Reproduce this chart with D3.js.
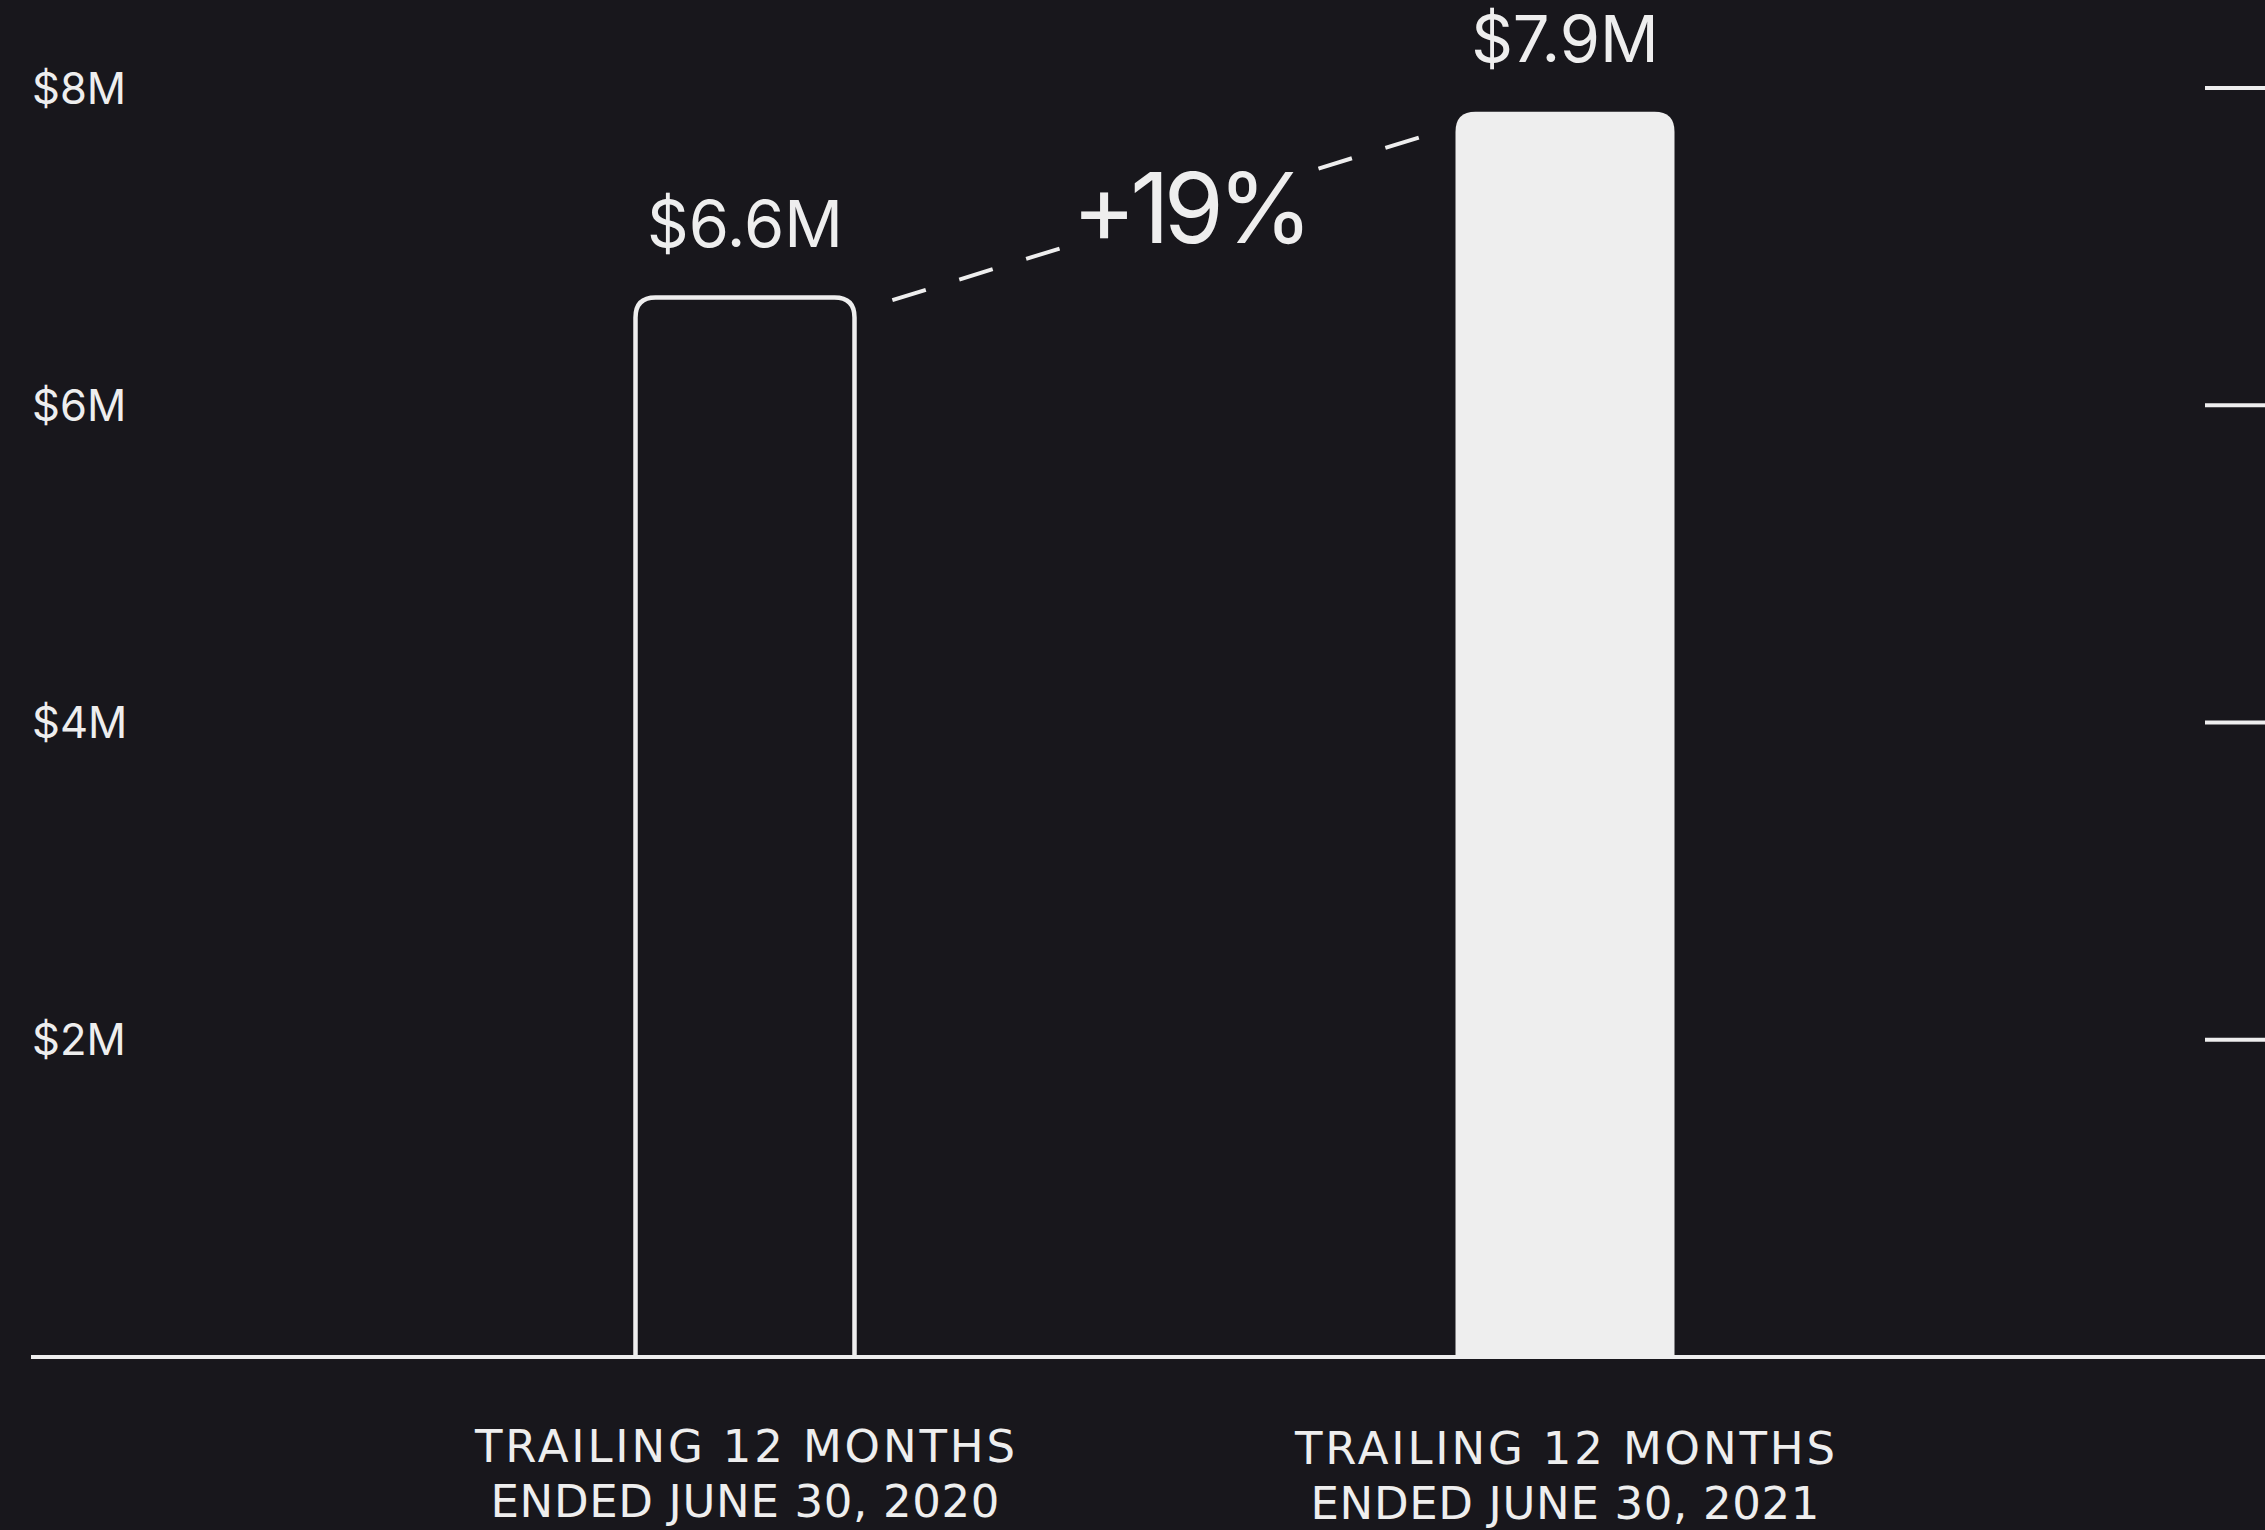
<!DOCTYPE html>
<html>
<head>
<meta charset="utf-8">
<script src="https://cdn.jsdelivr.net/npm/d3@7"></script>
<style>
  html, body { margin: 0; padding: 0; background: #18171c; }
  svg { display: block; }
</style>
</head>
<body>
<svg id="chart" width="2265" height="1530"></svg>
<script>
// ---- data ----
const categories = ["2020", "2021"];
const categoryLines = [
  ["TRAILING 12 MONTHS", "ENDED JUNE 30, 2020"],
  ["TRAILING 12 MONTHS", "ENDED JUNE 30, 2021"]
];
const values = [6.68, 7.85];           // $M
const valueLabels = ["$6.6M", "$7.9M"];
const growthLabel = "+19%";
const yTicks = [2, 4, 6, 8];
const yTickLabels = ["$2M", "$4M", "$6M", "$8M"];

// ---- layout ----
const W = 2265, H = 1530;
const FG = "#eeeeee", BG = "#18171c";
const svg = d3.select("#chart");
svg.append("rect").attr("width", W).attr("height", H).attr("fill", BG);

const y = d3.scaleLinear().domain([0, 8]).range([1357, 88]);
const x = d3.scalePoint().domain(categories).range([745, 1565]);
const bw = 219, r = 20;

function topRounded(cx, top, bottom, w, rad) {
  const l = cx - w / 2, rr = cx + w / 2;
  return `M${l},${bottom} L${l},${top + rad} Q${l},${top} ${l + rad},${top} L${rr - rad},${top} Q${rr},${top} ${rr},${top + rad} L${rr},${bottom}`;
}

// y-axis labels
svg.append("g").selectAll("text").data(yTicks).join("text")
  .attr("x", 32).attr("y", d => y(d))
  .attr("dy", "0.36em")
  .attr("font-family", "Inter, 'Noto Sans', sans-serif")
  .attr("font-size", 43.5).attr("fill", FG)
  .text((d, i) => yTickLabels[i]);

// right tick marks
svg.append("g").selectAll("line").data(yTicks).join("line")
  .attr("x1", 2205).attr("x2", W)
  .attr("y1", d => y(d)).attr("y2", d => y(d))
  .attr("stroke", FG).attr("stroke-width", 4);

// bars
svg.append("path")
  .attr("d", topRounded(x(categories[0]), y(values[0]), y(0), bw, r))
  .attr("fill", "none").attr("stroke", FG).attr("stroke-width", 4.5);
svg.append("path")
  .attr("d", topRounded(x(categories[1]), y(values[1]), y(0), bw, r) + " Z")
  .attr("fill", FG);

// baseline
svg.append("line")
  .attr("x1", 31).attr("x2", W)
  .attr("y1", y(0)).attr("y2", y(0))
  .attr("stroke", FG).attr("stroke-width", 4);

// value labels
svg.append("g").selectAll("text").data(values).join("text")
  .attr("x", (d, i) => x(categories[i]))
  .attr("y", d => y(d) - 50)
  .attr("text-anchor", "middle")
  .attr("font-family", "Inter, 'Noto Sans', sans-serif")
  .attr("font-size", 65).attr("fill", FG)
  .text((d, i) => valueLabels[i]);

// dashed growth connector
const A = [x(categories[0]) + bw / 2, y(values[0]) + 14.5];
const B = [x(categories[1]) - bw / 2, y(values[1]) + 14.5];
const pt = t => [A[0] + (B[0] - A[0]) * t, A[1] + (B[1] - A[1]) * t];
[[0.063, 0.343], [0.772, 0.94]].forEach(([t0, t1]) => {
  const p0 = pt(t0), p1 = pt(t1);
  svg.append("line")
    .attr("x1", p0[0]).attr("y1", p0[1]).attr("x2", p1[0]).attr("y2", p1[1])
    .attr("stroke", FG).attr("stroke-width", 4)
    .attr("stroke-dasharray", "35,35");
});
const mid = pt(0.5575);
svg.append("text")
  .attr("x", mid[0]).attr("y", 243)
  .attr("text-anchor", "middle")
  .attr("font-family", "Inter, 'Noto Sans', sans-serif")
  .attr("font-size", 97).attr("letter-spacing", "-6px")
  .attr("fill", FG)
  .text(growthLabel);

// category labels
const cat = svg.append("g").selectAll("g").data(categories).join("g");
cat.each(function (d, i) {
  const g = d3.select(this);
  const cx = x(d);
  const lens = [540, 509];
  categoryLines[i].forEach((line, j) => {
    g.append("text")
      .attr("x", cx).attr("y", 1462 + j * 55 + i * 2)
      .attr("text-anchor", "middle")
      .attr("font-family", "'DejaVu Sans', Inter, sans-serif")
      .attr("font-size", 45).attr("fill", FG)
      .attr("textLength", lens[j]).attr("lengthAdjust", "spacing")
      .text(line);
  });
});
</script>
</body>
</html>
